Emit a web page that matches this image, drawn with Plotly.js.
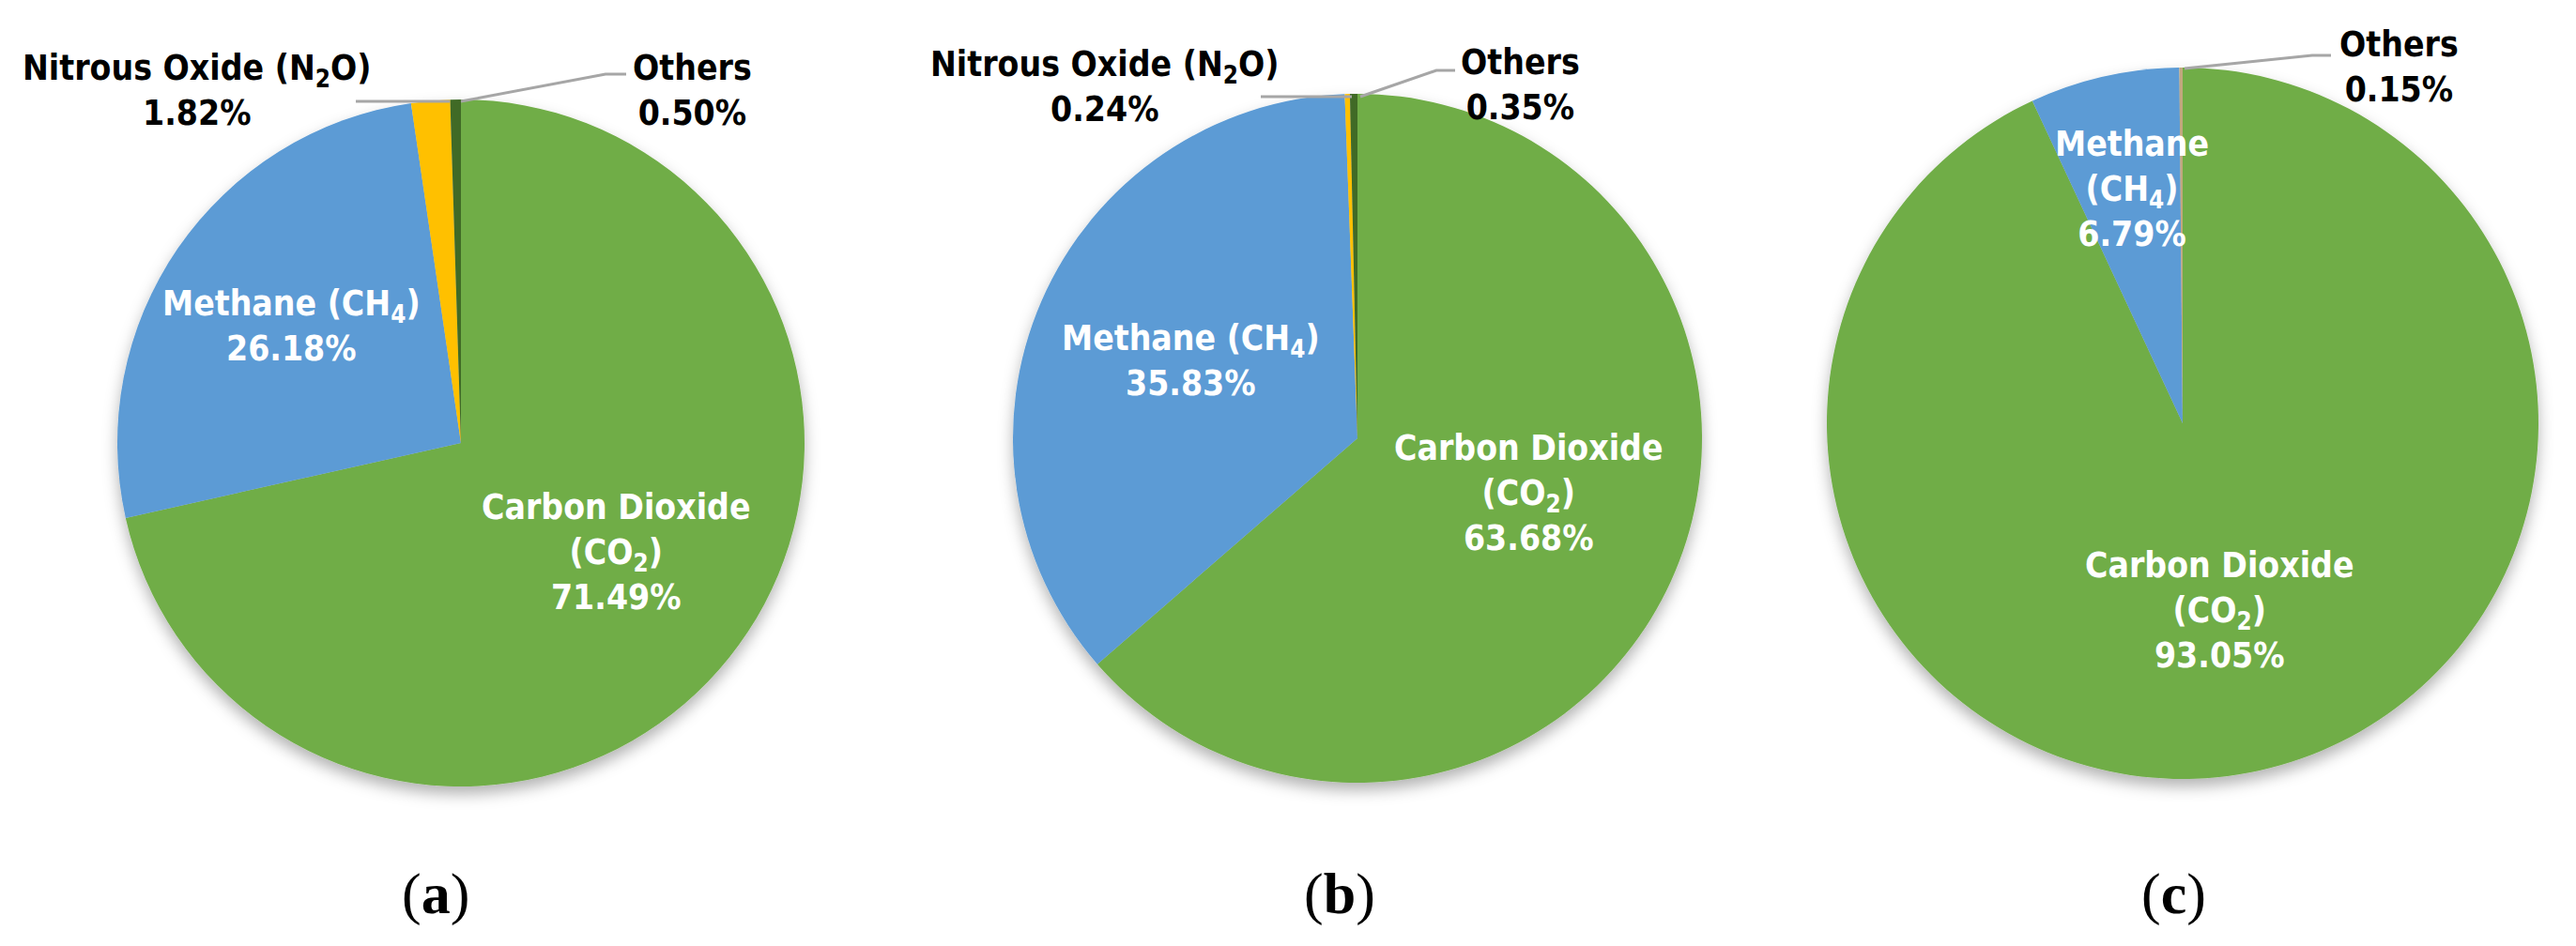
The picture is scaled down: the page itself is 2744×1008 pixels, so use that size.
<!DOCTYPE html>
<html>
<head>
<meta charset="utf-8">
<script src="https://cdn.plot.ly/plotly-3.0.1.min.js"></script>
<style>
  html, body { margin: 0; padding: 0; background: #fff; }
  #chart { width: 2744px; height: 1008px; }
</style>
</head>
<body>
<div id="chart"></div>
<script>
// gas shares (%) per panel, same order in every panel
const gases = ['Carbon Dioxide', 'Methane', 'Nitrous Oxide', 'Others'];
const formulas = ['CO<sub>2</sub>', 'CH<sub>4</sub>', 'N<sub>2</sub>O', ''];
const shareA = [71.49, 26.18, 1.82, 0.50];
const shareB = [63.68, 35.83, 0.24, 0.35];
const shareC = [93.05, 6.79, 0, 0.15];
const panelNames = ['a', 'b', 'c'];

const colorsAB = ['#70AD47', '#5B9BD5', '#FFC000', '#3F6B27'];
const colorsC = ['#70AD47', '#5B9BD5', '#FFC000', '#C2A77E'];

const W = 2744, H = 1008;
const px = x => x / W;
const py = y => 1 - y / H;

// pie centre and radius in pixels
const pies = [
    { vals: shareA, cx: 491, cy: 472, r: 366, colors: colorsAB },
    { vals: shareB, cx: 1446, cy: 467, r: 367, colors: colorsAB },
    { vals: shareC, cx: 2325, cy: 451, r: 379, colors: colorsC }
];

const traces = pies.map(p => ({
    type: 'pie',
    values: p.vals,
    labels: gases,
    sort: false,
    direction: 'clockwise',
    rotation: 0,
    textinfo: 'none',
    hoverinfo: 'skip',
    marker: { colors: p.colors, line: { width: 0 } },
    domain: {
        x: [px(p.cx - p.r), px(p.cx + p.r)],
        y: [py(p.cy + p.r), py(p.cy - p.r)]
    },
    showlegend: false
}));

// label placement: panel, gas index, style, position
const labelSpots = [
    { pie: 0, g: 0, style: 'split', x: 656, y: 588, inside: true },
    { pie: 0, g: 1, style: 'one', x: 310, y: 347, inside: true },
    { pie: 0, g: 2, style: 'one', x: 210, y: 97, inside: false },
    { pie: 0, g: 3, style: 'one', x: 738, y: 96, inside: false },
    { pie: 1, g: 0, style: 'split', x: 1628, y: 525, inside: true },
    { pie: 1, g: 1, style: 'one', x: 1268, y: 384, inside: true },
    { pie: 1, g: 2, style: 'one', x: 1177, y: 92, inside: false },
    { pie: 1, g: 3, style: 'one', x: 1619, y: 90, inside: false },
    { pie: 2, g: 0, style: 'split', x: 2364, y: 650, inside: true },
    { pie: 2, g: 1, style: 'split', x: 2271, y: 202, inside: true },
    { pie: 2, g: 3, style: 'one', x: 2555, y: 72, inside: false }
];

const labelFont = "'DejaVu Sans Condensed', 'Open Sans', sans-serif";

const annotations = labelSpots.map(s => {
    const v = pies[s.pie].vals[s.g].toFixed(2) + '%';
    const f = formulas[s.g];
    let name = gases[s.g];
    if (f) name = s.style === 'split' ? name + '<br>(' + f + ')' : name + ' (' + f + ')';
    return {
        xref: 'paper', yref: 'paper',
        x: px(s.x), y: py(s.y),
        xanchor: 'center', yanchor: 'middle',
        showarrow: false,
        text: '<b>' + name + '<br>' + v + '</b>',
        font: { family: labelFont, size: 37, color: s.inside ? '#ffffff' : '#000000' }
    };
});

const panelX = [464, 1427, 2315];
panelNames.forEach((n, i) => {
    annotations.push({
        xref: 'paper', yref: 'paper',
        x: px(panelX[i]), y: py(952),
        xanchor: 'center', yanchor: 'middle',
        showarrow: false,
        text: '(<b>' + n + '</b>)',
        font: { family: "'Liberation Serif', 'DejaVu Serif', serif", size: 62, color: '#000' }
    });
});

// leader lines for the thin slices
const leaders = [
    [[379, 108], [479, 108]],
    [[491, 108], [645, 79], [667, 79]],
    [[1343, 103], [1440, 103]],
    [[1449, 103], [1530, 75], [1550, 75]],
    [[2327, 73], [2463, 59], [2483, 59]]
];
const shapes = leaders.map(pts => ({
    type: 'path',
    xref: 'paper', yref: 'paper',
    path: pts.map((q, i) => (i ? 'L' : 'M') + px(q[0]) + ',' + py(q[1])).join(' '),
    line: { color: '#A6A6A6', width: 3 }
}));

const layout = {
    width: W, height: H,
    margin: { l: 0, r: 0, t: 0, b: 0 },
    paper_bgcolor: '#ffffff',
    annotations: annotations,
    shapes: shapes,
    showlegend: false
};

Plotly.newPlot('chart', traces, layout, { displayModeBar: false, staticPlot: true }).then(gd => {
    // soft drop shadow under each pie, like the original office chart
    const svg = gd.querySelector('.main-svg');
    const ns = 'http://www.w3.org/2000/svg';
    let defs = svg.querySelector('defs');
    if (!defs) { defs = document.createElementNS(ns, 'defs'); svg.prepend(defs); }
    const filt = document.createElementNS(ns, 'filter');
    filt.setAttribute('id', 'pie-shadow');
    filt.setAttribute('x', '-10%'); filt.setAttribute('y', '-10%');
    filt.setAttribute('width', '120%'); filt.setAttribute('height', '125%');
    const ds = document.createElementNS(ns, 'feDropShadow');
    ds.setAttribute('dx', '0'); ds.setAttribute('dy', '8');
    ds.setAttribute('stdDeviation', '8');
    ds.setAttribute('flood-color', '#000'); ds.setAttribute('flood-opacity', '0.3');
    filt.appendChild(ds);
    defs.appendChild(filt);
    gd.querySelectorAll('.pielayer .trace').forEach(t => t.setAttribute('filter', 'url(#pie-shadow)'));
});
</script>
</body>
</html>
